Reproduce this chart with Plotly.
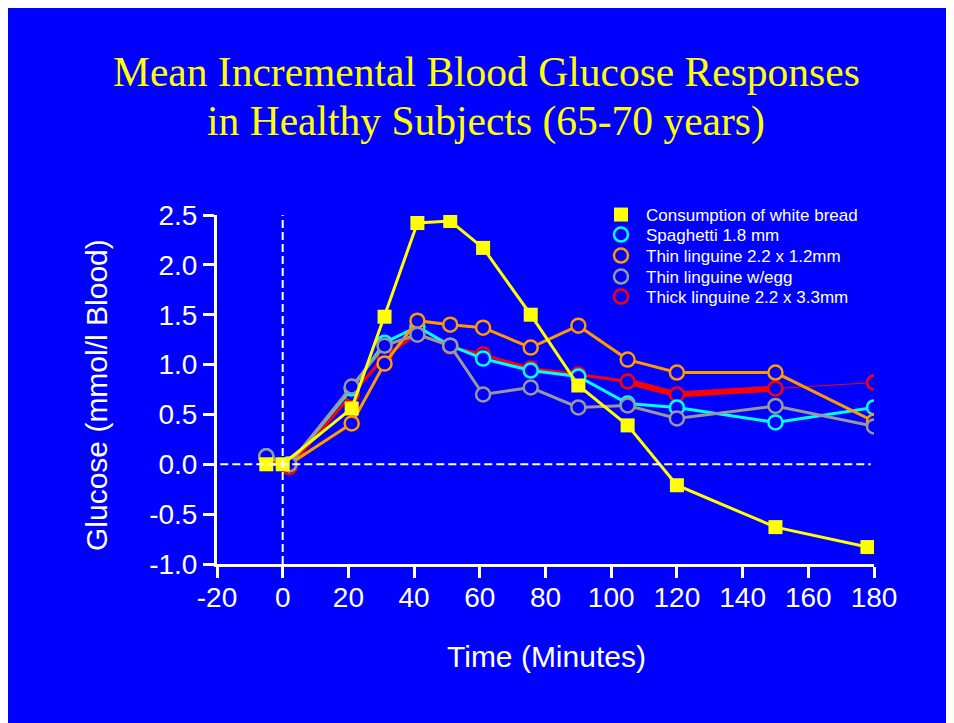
import plotly.graph_objects as go

# ---- data ----
time_bread = [-5, 0, 21, 31, 41, 51, 61, 75.5, 90, 105, 120, 150, 178]
bread = [0.0, 0.0, 0.56, 1.48, 2.42, 2.44, 2.17, 1.50, 0.79, 0.39, -0.21, -0.63, -0.83]

time_pasta = [-5, 2, 21, 31, 41, 51, 61, 75.5, 90, 105, 120, 150, 180]
spaghetti = [0.08, 0.0, 0.76, 1.22, 1.38, 1.19, 1.06, 0.94, 0.88, 0.61, 0.57, 0.42, 0.57]
thin_linguine = [0.07, 0.0, 0.41, 1.01, 1.44, 1.40, 1.37, 1.17, 1.39, 1.05, 0.92, 0.92, 0.43]
egg_linguine = [0.08, 0.0, 0.78, 1.19, 1.30, 1.19, 0.70, 0.77, 0.57, 0.59, 0.46, 0.585, 0.38]
thick_linguine = [0.07, -0.03, 0.70, 1.08, 1.31, 1.18, 1.10, 0.96, 0.90, 0.83, 0.70, 0.76, 0.82]

names = ["Consumption of white bread", "Spaghetti 1.8 mm", "Thin linguine 2.2 x 1.2mm",
         "Thin linguine w/egg", "Thick linguine 2.2 x 3.3mm"]

x_ticks = [-20, 0, 20, 40, 60, 80, 100, 120, 140, 160, 180]
y_ticks = [-1.0, -0.5, 0.0, 0.5, 1.0, 1.5, 2.0, 2.5]

BLUE = "#0000ff"
OFF = 8                      # page (body) margin of the html page
W, H = 954 - OFF, 723 - OFF
ML, MR, MT, MB = 209, 80, 207, 159
PW, PH = W - ML - MR, H - MT - MB


def px2x(sx):                # screen px -> paper x
    return (sx - OFF - ML) / PW


def px2y(sy):                # screen px -> paper y
    return (H - MB - (sy - OFF)) / PH


fig = go.Figure()


def circle_series(x, y, color, name, legend_id, segs=None):
    if segs is None:
        segs = [(0, len(x) - 1, 3)]
    for a, b, w in segs:
        fig.add_trace(go.Scatter(x=x[a:b + 1], y=y[a:b + 1], mode="lines",
                                 line=dict(color=color, width=w),
                                 showlegend=False, hoverinfo="skip"))
    fig.add_trace(go.Scatter(x=x, y=y, mode="markers", name=name, legend=legend_id,
                             marker=dict(symbol="circle", size=14, color=BLUE,
                                         line=dict(color=color, width=2.5))))


# draw order: red, cyan, orange, gray, yellow
circle_series(time_pasta, thick_linguine, "#ff0000", names[4], "legend5",
              segs=[(0, 9, 3), (9, 11, 6), (11, 12, 1)])
circle_series(time_pasta, spaghetti, "#00ffff", names[1], "legend2")
circle_series(time_pasta, thin_linguine, "#ff9900", names[2], "legend3")
circle_series(time_pasta, egg_linguine, "#999999", names[3], "legend4")

fig.add_trace(go.Scatter(x=time_bread, y=bread, mode="lines",
                         line=dict(color="#ffff00", width=3),
                         showlegend=False, hoverinfo="skip"))
fig.add_trace(go.Scatter(x=time_bread, y=bread, mode="markers", name=names[0], legend="legend",
                         marker=dict(symbol="square", size=14, color="#ffff00")))

# reference lines
fig.add_shape(type="line", xref="x", yref="y", x0=0, x1=0, y0=-1, y1=2.5,
              line=dict(color="white", width=2, dash="8px,4px"))
fig.add_shape(type="line", xref="x", yref="y", x0=-19, x1=179, y0=0, y1=0,
              line=dict(color="white", width=2, dash="8px,4px"))

# titles
title_font = dict(family="Liberation Serif, Times New Roman, serif", size=41.5, color="#ffff00")
fig.add_annotation(text="Mean Incremental Blood Glucose Responses", xref="paper", yref="paper",
                   x=px2x(486), y=px2y(72), xanchor="center", yanchor="middle",
                   showarrow=False, font=title_font)
fig.add_annotation(text="in Healthy Subjects (65-70 years)", xref="paper", yref="paper",
                   x=px2x(486), y=px2y(121), xanchor="center", yanchor="middle",
                   showarrow=False, font=title_font)

axis_title_font = dict(family="Liberation Sans, Arial, sans-serif", size=30, color="white")
fig.add_annotation(text="Time (Minutes)", xref="paper", yref="paper",
                   x=px2x(546), y=px2y(656), xanchor="center", yanchor="middle",
                   showarrow=False, font=axis_title_font)
fig.add_annotation(text="Glucose (mmol/l Blood)", xref="paper", yref="paper",
                   x=px2x(96), y=px2y(395), xanchor="center", yanchor="middle",
                   textangle=-90, showarrow=False, font=axis_title_font)

tick_font = dict(family="Liberation Sans, Arial, sans-serif", size=28, color="white")
common = dict(showgrid=False, zeroline=False, showline=True, linecolor="white", linewidth=3,
              ticks="outside", ticklen=11, tickwidth=3, tickcolor="white", tickfont=tick_font)

fig.update_xaxes(range=[-20, 180], tickvals=x_ticks, ticktext=[str(v) for v in x_ticks],
                 ticklabelstandoff=-5, **common)
fig.update_yaxes(range=[-1, 2.5], tickvals=y_ticks, ticktext=[f"{v:.1f}" for v in y_ticks], **common)

legend_font = dict(family="Liberation Sans, Arial, sans-serif", size=17, color="white")
row_y = [215, 235, 256, 277, 297]
legend_ids = ["legend", "legend2", "legend3", "legend4", "legend5"]
legends = {}
for lid, ry in zip(legend_ids, row_y):
    legends[lid] = dict(x=px2x(596), y=px2y(ry), xanchor="left", yanchor="middle",
                        bgcolor="rgba(0,0,0,0)", borderwidth=0, itemwidth=40,
                        font=legend_font, itemclick=False, itemdoubleclick=False)

fig.update_layout(
    width=W, height=H,
    margin=dict(l=ML, r=MR, t=MT, b=MB, pad=0),
    paper_bgcolor=BLUE, plot_bgcolor=BLUE,
    showlegend=True,
    **legends,
)

fig.write_html("out.html")
